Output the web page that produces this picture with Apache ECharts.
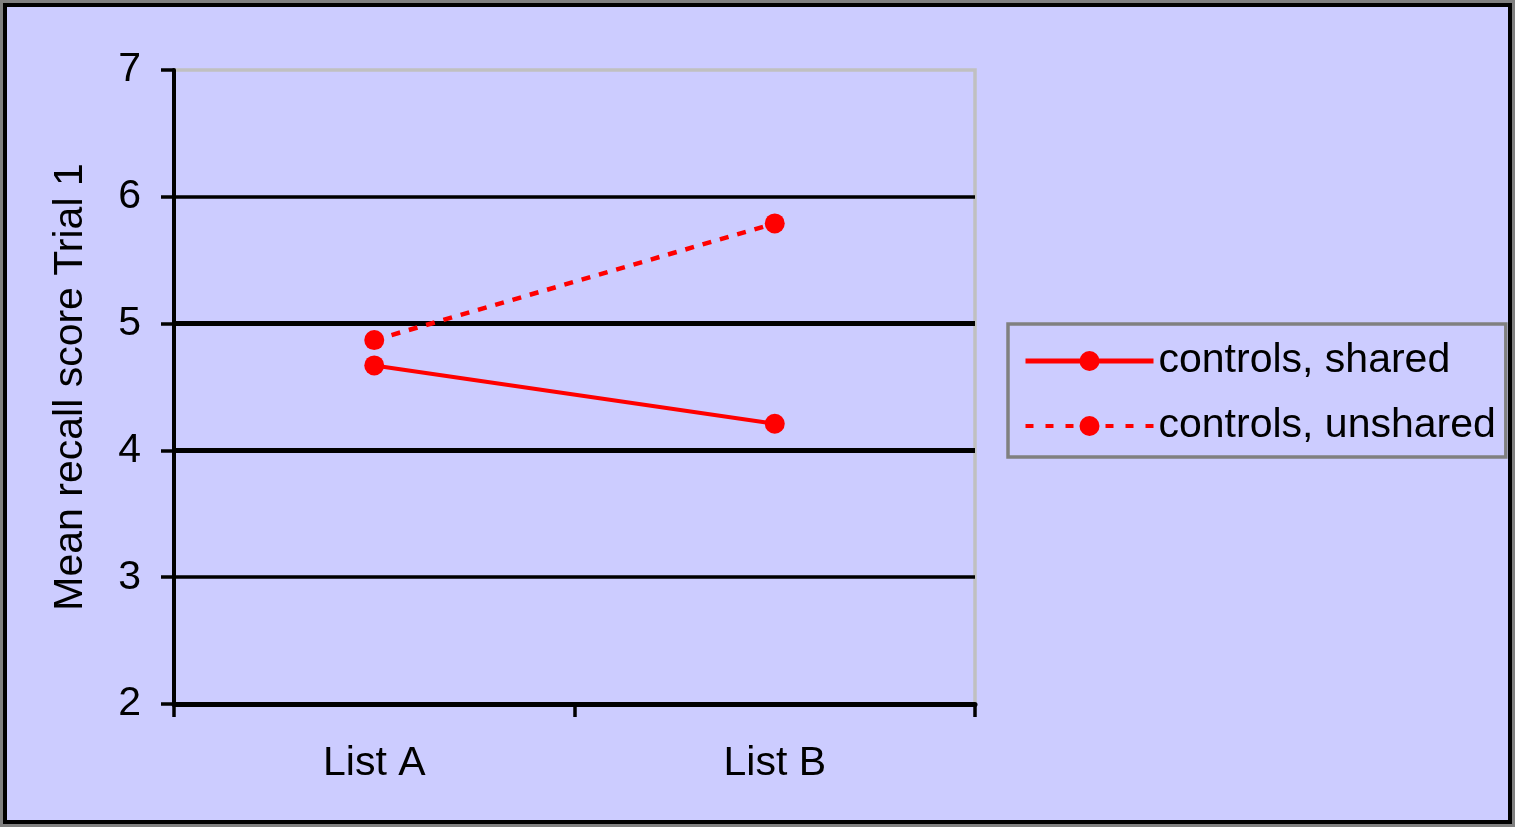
<!DOCTYPE html>
<html><head><meta charset="utf-8">
<script src="https://cdn.jsdelivr.net/npm/echarts@6/dist/echarts.min.js"></script>
<style>html,body{margin:0;padding:0;background:#CCCCFF}#c{width:1515px;height:827px}</style>
</head><body><div id="c"></div>
<script>
const categories = ['List A', 'List B'];
const seriesNames = ['controls, shared', 'controls, unshared'];
const sharedValues = [4.67, 4.21];
const unsharedValues = [4.87, 5.79];
const yMin = 2, yMax = 7, yInterval = 1;
const gridValues = [3, 4, 5, 6];
const yAxisTitle = 'Mean recall score Trial 1';

const FONT = "'Liberation Sans', Arial, sans-serif";
const gridWidth = v => (v === 4 || v === 5) ? 5 : 3.5;

const chart = echarts.init(document.getElementById('c'));
chart.setOption({
  backgroundColor: '#CCCCFF',
  animation: false,
  textStyle: { fontFamily: FONT },
  graphic: [
    { type: 'rect', silent: true, z: 100, shape: { x: 0, y: 0, width: 1515, height: 827 },
      style: { fill: 'none', stroke: '#808080', lineWidth: 6 } },
    { type: 'rect', silent: true, z: 101, shape: { x: 5, y: 5, width: 1505, height: 817 },
      style: { fill: 'none', stroke: '#000000', lineWidth: 4 } }
  ],
  grid: { left: 174, right: 540, top: 70, bottom: 123, show: true,
    borderColor: '#C0C0C0', borderWidth: 3.5, backgroundColor: 'transparent' },
  legend: {
    data: [
      { name: seriesNames[0], lineStyle: { width: 5, type: 'solid' } },
      { name: seriesNames[1], lineStyle: { width: 4, type: [8, 12] } }
    ],
    orient: 'vertical',
    left: 1008, top: 324,
    padding: [15, 10, 9, 15],
    itemGap: 21,
    itemWidth: 128, itemHeight: 25,
    borderColor: '#808080', borderWidth: 3.5,
    textStyle: { fontSize: 41, lineHeight: 44, color: '#000', fontFamily: FONT }
  },
  xAxis: {
    type: 'category', data: categories, boundaryGap: true,
    axisLine: { lineStyle: { color: '#000', width: 5 } },
    axisTick: { show: true, length: 13, lineStyle: { color: '#000', width: 3.5 } },
    axisLabel: { fontSize: 41, lineHeight: 41, color: '#000', margin: 39, fontFamily: FONT },
    splitLine: { show: false }
  },
  yAxis: {
    type: 'value', min: yMin, max: yMax, interval: yInterval,
    name: yAxisTitle, nameLocation: 'middle', nameRotate: 90, nameGap: 83,
    nameTextStyle: { fontSize: 41, lineHeight: 41, color: '#000', fontFamily: FONT },
    axisLine: { show: true, lineStyle: { color: '#000', width: 4 } },
    axisTick: { show: true, length: 13, lineStyle: { color: '#000', width: 3.5 } },
    axisLabel: { fontSize: 41, color: '#000', margin: 33, fontFamily: FONT },
    splitLine: { show: false }
  },
  series: [
    {
      name: '__grid', type: 'line', data: [], z: 1, silent: true,
      markLine: {
        silent: true, symbol: 'none', label: { show: false }, animation: false,
        data: gridValues.map(v => ({ yAxis: v, lineStyle: { color: '#000', type: 'solid', width: gridWidth(v) } }))
      }
    },
    {
      name: seriesNames[0], type: 'line', data: sharedValues, z: 5,
      symbol: 'circle', symbolSize: 20,
      itemStyle: { color: '#FF0000' },
      lineStyle: { color: '#FF0000', width: 4, type: 'solid' }
    },
    {
      name: seriesNames[1], type: 'line', data: unsharedValues, z: 5,
      symbol: 'circle', symbolSize: 20,
      itemStyle: { color: '#FF0000' },
      lineStyle: { color: '#FF0000', width: 4.5, type: [9, 9] }
    }
  ]
});
</script></body></html>
